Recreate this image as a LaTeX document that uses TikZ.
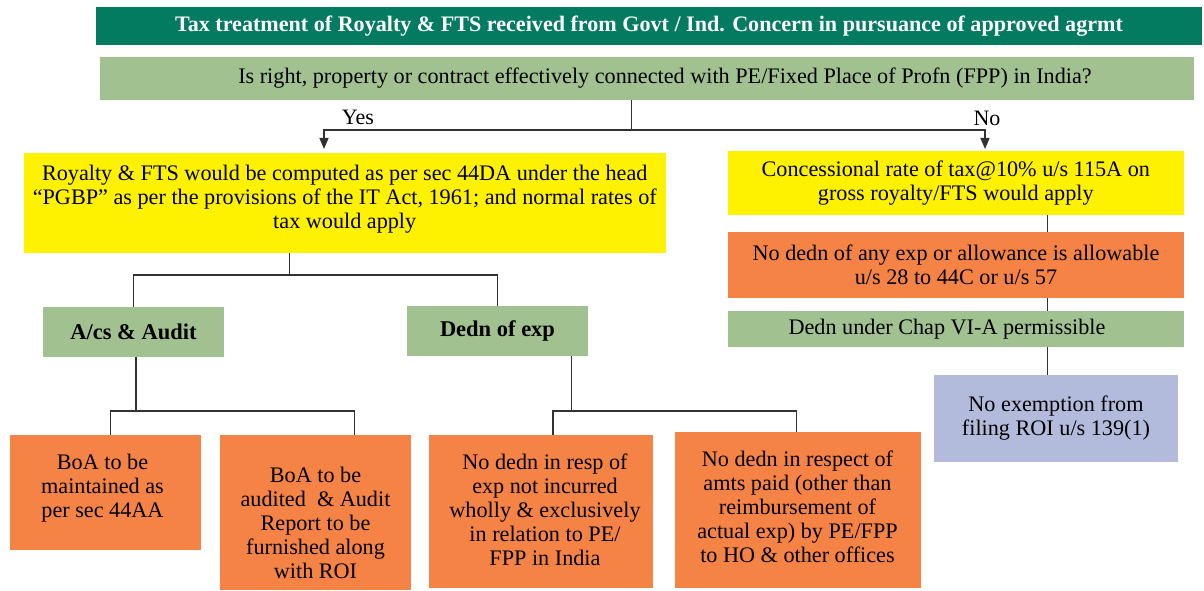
\documentclass[tikz,border=0pt]{standalone}
\usepackage{fontspec}
\setmainfont{Liberation Serif}
\usetikzlibrary{arrows.meta}
\definecolor{tgreen}{RGB}{2,123,97}
\definecolor{lgreen}{RGB}{162,193,145}
\definecolor{yel}{RGB}{255,242,0}
\definecolor{org}{RGB}{245,131,70}
\definecolor{lav}{RGB}{179,187,221}
\definecolor{ln}{RGB}{50,50,50}
\begin{document}
\begin{tikzpicture}[x=1pt,y=-1pt,
  box/.style={inner sep=0pt, outer sep=0pt, align=center, font=\fontsize{22.2}{24}\selectfont},
  conn/.style={draw=ln, line width=1.4pt},
  arr/.style={conn, -{Triangle[length=11pt,width=9pt]}},
  lbl/.style={inner sep=0pt, font=\fontsize{22}{24}\selectfont}]
\useasboundingbox (0,0) rectangle (1204,591);
\fill[white] (0,0) rectangle (1204,591);

\node[box, fill=tgreen, text=white, minimum width=1106pt, minimum height=38pt,
  font={\fontsize{22.1}{26}\selectfont\bfseries}] (title) at (649,26)
  {Tax treatment of Royalty \& FTS received from Govt / Ind. Concern in pursuance of approved agrmt};
\node[box, fill=lgreen, minimum width=1093.6pt, minimum height=43pt] (q) at (646.8,78.5) {};
\node[box] (qt) at (665,78.5)
  {Is right, property or contract effectively connected with PE/Fixed Place of Profn (FPP) in India?};

\node[box, fill=yel, minimum width=641.5pt, minimum height=99.5pt] (yl) at (344.75,202.75) {};
\node[box] (ylt) at (344.75,199.5)
  {Royalty \& FTS would be computed as per sec 44DA under the head\\ “PGBP” as per the provisions of the IT Act, 1961; and normal rates of\\ tax would apply};
\node[box, fill=yel, minimum width=455.6pt, minimum height=63.7pt] (yr) at (955.8,182.85)
  {Concessional rate of tax@10\% u/s 115A on\\ gross royalty/FTS would apply};
\node[box, fill=org, minimum width=456pt, minimum height=65.7pt] (orr) at (956,264.85)
  {No dedn of any exp or allowance is allowable\\ u/s 28 to 44C or u/s 57};
\node[box, fill=lgreen, minimum width=456pt, minimum height=35.7pt] (gr) at (956,328.85) {};
\node[box] (grt) at (947,328.85) {Dedn under Chap VI-A permissible};
\node[box, fill=lav, minimum width=244pt, minimum height=86.7pt] (bl) at (1056,418.35)
  {No exemption from\\ filing ROI u/s 139(1)};

\node[box, fill=lgreen, minimum width=181pt, minimum height=49.7pt,
  font={\fontsize{22.5}{24}\selectfont\bfseries}] (ac) at (133.5,331.85)
  {A/cs \& Audit};
\node[box, fill=lgreen, minimum width=181pt, minimum height=49.7pt,
  font={\fontsize{22.5}{24}\selectfont\bfseries}] (de) at (497.5,330.85)
  {Dedn of exp};

\node[box, fill=org, minimum width=191pt, minimum height=114.7pt] (b1) at (105.5,492.35) {};
\node[box] (b1t) at (102.5,488) {BoA to be\\ maintained as\\ per sec 44AA};
\node[box, fill=org, minimum width=191pt, minimum height=155pt] (b2) at (315.5,512.5) {};
\node[box] (b2t) at (315.5,522.5) {BoA to be\\ audited~ \& Audit\\ Report to be\\ furnished along\\ with ROI};
\node[box, fill=org, minimum width=223.7pt, minimum height=153pt] (b3) at (540.85,511.5) {};
\node[box] (b3t) at (545,509.5)
  {No dedn in resp of\\ exp not incurred\\ wholly \& exclusively\\ in relation to PE/\\ FPP in India};
\node[box, fill=org, minimum width=245.7pt, minimum height=155.7pt] (b4) at (797.85,510.15) {};
\node[box] (b4t) at (797.5,507)
  {No dedn in respect of\\ amts paid (other than\\ reimbursement of\\ actual exp) by PE/FPP\\ to HO \& other offices};

% top split
\coordinate (j0) at (631.6,130);
\coordinate (ya) at (324,149);
\coordinate (na) at (985,149);
\draw[conn] (q.south -| j0) -- (j0);
\draw[arr] (j0) -| (ya);
\draw[arr] (j0) -| (na);
\node[lbl] (yes) at (358,117) {Yes};
\node[lbl] (no) at (987,118) {No};

% left subtree
\coordinate (j1) at (289.7,275);
\draw[conn] (yl.south -| j1) -- (j1);
\draw[conn] (j1) -| (ac.north);
\draw[conn] (j1) -| (de.north);

\coordinate (j2) at (135.9,411);
\draw[conn] (ac.south -| j2) -- (j2);
\draw[conn] (j2) -| ([xshift=5.2pt]b1.north);
\draw[conn] (j2) -| ([xshift=38.9pt]b2.north);

\coordinate (j3) at (571.4,411);
\draw[conn] (de.south -| j3) -- (j3);
\draw[conn] (j3) -| ([xshift=12.15pt]b3.north);
\draw[conn] (j3) -| ([xshift=-1.15pt]b4.north);

% right column
\coordinate (rc) at (1047.6,0);
\draw[conn] (yr.south -| rc) -- (orr.north -| rc);
\draw[conn] (orr.south -| rc) -- (gr.north -| rc);
\draw[conn] (gr.south -| rc) -- (bl.north -| rc);
\end{tikzpicture}
\end{document}
